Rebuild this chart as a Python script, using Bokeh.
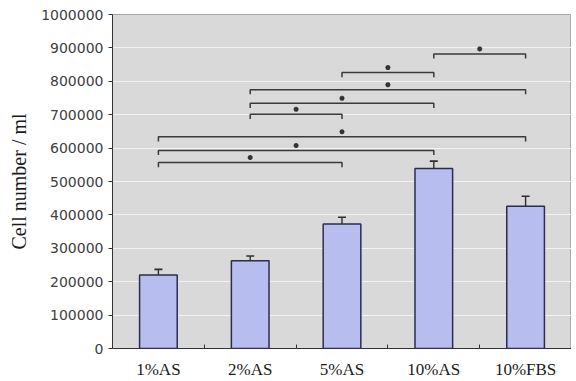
from bokeh.plotting import figure
from bokeh.models import Range1d, FixedTicker, Whisker, ColumnDataSource, TeeHead
from bokeh.embed import file_html
from bokeh.resources import INLINE

# ---- data ----
groups = ["1%AS", "2%AS", "5%AS", "10%AS", "10%FBS"]
cell_number = [220000, 263000, 373000, 539000, 426000]
cell_error = [17000, 14000, 20000, 22000, 30000]

# significance brackets: (left group index, right group index, height)
bracket_left = [1, 1, 1, 2, 2, 2, 3, 4]
bracket_right = [3, 4, 5, 3, 4, 5, 4, 5]
bracket_height = [557000, 593000, 634000, 701000, 734000, 775000, 826000, 882000]

y_ticks = list(range(0, 1000001, 100000))

# ---- figure ----
p = figure(width=571, height=381, output_backend="svg", toolbar_location=None,
           x_range=Range1d(0.5, 5.5), y_range=Range1d(0, 1000000),
           min_border_left=112, min_border_right=0, min_border_top=14,
           min_border_bottom=31)

p.background_fill_color = "#d9d9d9"
p.border_fill_color = "white"
p.outline_line_color = "#a8a8a8"
p.outline_line_width = 1

p.xgrid.grid_line_color = None
p.ygrid.grid_line_color = "#f2f2f2"
p.ygrid.grid_line_width = 1.2
p.ygrid.ticker = FixedTicker(ticks=y_ticks)

xs = list(range(1, len(groups) + 1))
src = ColumnDataSource(dict(x=xs, top=cell_number,
                            upper=[v + e for v, e in zip(cell_number, cell_error)]))

p.vbar(x="x", top="top", width=0.41, source=src,
       fill_color="#b7bdee", line_color="#2a2d50", line_width=1.5)

w = Whisker(base="x", lower="top", upper="upper", source=src,
            line_color="#2e2e2e", line_width=1.4,
            upper_head=TeeHead(size=8, line_color="#2e2e2e", line_width=1.6),
            lower_head=None)
p.add_layout(w)

# brackets
tick_len = 14000
bx, by, sx, sy = [], [], [], []
for l, r, h in zip(bracket_left, bracket_right, bracket_height):
    bx.append([l, l, r, r])
    by.append([h - tick_len, h, h, h - tick_len])
    sx.append((l + r) / 2)
    sy.append(h + 15000)
p.multi_line(bx, by, line_color="#3a3a3a", line_width=1.5)
p.scatter(sx, sy, marker="asterisk", size=5, line_color="#333333", line_width=1.5)

# axes
p.yaxis.ticker = FixedTicker(ticks=y_ticks)
p.yaxis.formatter.use_scientific = False
p.yaxis.axis_label = "Cell number / ml"
p.yaxis.axis_label_text_font = "Liberation Serif"
p.yaxis.axis_label_text_font_size = "20px"
p.yaxis.axis_label_text_font_style = "normal"
p.yaxis.axis_label_text_color = "#1a1a1a"
p.yaxis.axis_label_standoff = 8
p.yaxis.major_label_text_font = "DejaVu Sans"
p.yaxis.major_label_text_font_size = "14px"
p.yaxis.major_label_text_color = "#404040"
p.yaxis.major_label_standoff = 5
p.yaxis.major_tick_out = 4
p.yaxis.major_tick_in = 0
p.yaxis.minor_tick_out = 0
p.yaxis.minor_tick_in = 0
p.yaxis.axis_line_color = "#333333"
p.yaxis.major_tick_line_color = "#333333"

p.xaxis.ticker = FixedTicker(ticks=xs, minor_ticks=[1.5, 2.5, 3.5, 4.5])
p.xaxis.major_label_overrides = {x: g for x, g in zip(xs, groups)}
p.xaxis.major_label_text_font = "Liberation Serif"
p.xaxis.major_label_text_font_size = "17px"
p.xaxis.major_label_text_color = "#1a1a1a"
p.xaxis.major_label_standoff = 11
p.xaxis.major_tick_out = 0
p.xaxis.major_tick_in = 0
p.xaxis.minor_tick_in = 4
p.xaxis.minor_tick_out = 0
p.xaxis.minor_tick_line_color = "#333333"
p.xaxis.axis_line_color = "#333333"

open("out.html", "w").write(file_html(p, INLINE))
